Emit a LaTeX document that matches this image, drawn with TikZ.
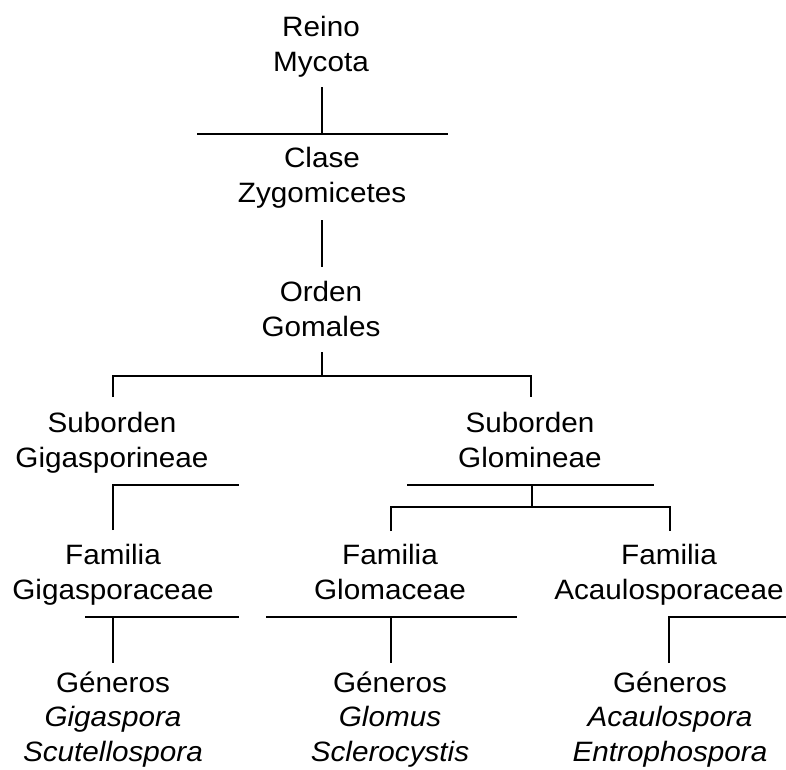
\documentclass[tikz,border=0pt]{standalone}
\usepackage{fontspec}
\setmainfont[FakeStretch=1.06]{Liberation Sans}
\begin{document}
\begin{tikzpicture}[x=1pt,y=-1pt]
\tikzset{
  lbl/.style={font=\fontsize{28}{34.5}\selectfont, align=center, inner sep=0pt, anchor=base},
  link/.style={line width=1.4pt, black, line cap=butt}
}
\useasboundingbox (0,0) rectangle (786,769);

% nodes (anchored at the baseline of the last line)
\node[lbl] (reino) at (321,71) {Reino\\Mycota};
\node[lbl] (clase) at (322,202) {Clase\\Zygomicetes};
\node[lbl] (orden) at (321,336) {Orden\\Gomales};
\node[lbl] (subL) at (112,467) {Suborden\\Gigasporineae};
\node[lbl] (subR) at (530,467) {Suborden\\Glomineae};
\node[lbl] (famG) at (113,599) {Familia\\Gigasporaceae};
\node[lbl] (famM) at (390,599) {Familia\\Glomaceae};
\node[lbl] (famA) at (669,599) {Familia\\Acaulosporaceae};
\node[lbl] (genG) at (113,761) {Géneros\\\itshape Gigaspora\\\itshape Scutellospora};
\node[lbl] (genM) at (390,761) {Géneros\\\itshape Glomus\\\itshape Sclerocystis};
\node[lbl] (genA) at (670,761) {Géneros\\\itshape Acaulospora\\\itshape Entrophospora};

% junction coordinates
\coordinate (r1) at (322,87);
\coordinate (r2) at (322,134);
\coordinate (r2l) at (197,134);
\coordinate (r2r) at (448,134);
\coordinate (c1) at (322,220);
\coordinate (c2) at (322,267);
\coordinate (o1) at (322,352);
\coordinate (o2) at (322,376);
\coordinate (o2l) at (113,376);
\coordinate (o2r) at (531,376);
\coordinate (o3l) at (113,397);
\coordinate (o3r) at (531,397);
\coordinate (sl1) at (113,485);
\coordinate (sl1r) at (239,485);
\coordinate (sl2) at (113,530);
\coordinate (sr1) at (532,485);
\coordinate (sr1l) at (407,485);
\coordinate (sr1r) at (654,485);
\coordinate (sr2) at (532,507);
\coordinate (sr2l) at (391,507);
\coordinate (sr2r) at (670,507);
\coordinate (sr3l) at (391,531);
\coordinate (sr3r) at (670,531);
\coordinate (fg1) at (113,617);
\coordinate (fg1l) at (85,617);
\coordinate (fg1r) at (239,617);
\coordinate (fg2) at (113,663);
\coordinate (fm1) at (391,617);
\coordinate (fm1l) at (266,617);
\coordinate (fm1r) at (517,617);
\coordinate (fm2) at (391,663);
\coordinate (fa1) at (669,617);
\coordinate (fa1r) at (786,617);
\coordinate (fa2) at (669,663);

% connectors
\draw[link] (r1) -- (r2);
\draw[link] (r2l) -- (r2r);
\draw[link] (c1) -- (c2);
\draw[link] (o1) -- (o2);
\draw[link] (o3l) -- (o2l) -- (o2r) -- (o3r);
\draw[link] (sl2) -- (sl1) -- (sl1r);
\draw[link] (sr1l) -- (sr1r);
\draw[link] (sr1) -- (sr2);
\draw[link] (sr3l) -- (sr2l) -- (sr2r) -- (sr3r);
\draw[link] (fg1l) -- (fg1r);
\draw[link] (fg1) -- (fg2);
\draw[link] (fm1l) -- (fm1r);
\draw[link] (fm1) -- (fm2);
\draw[link] (fa2) -- (fa1) -- (fa1r);
\end{tikzpicture}
\end{document}
